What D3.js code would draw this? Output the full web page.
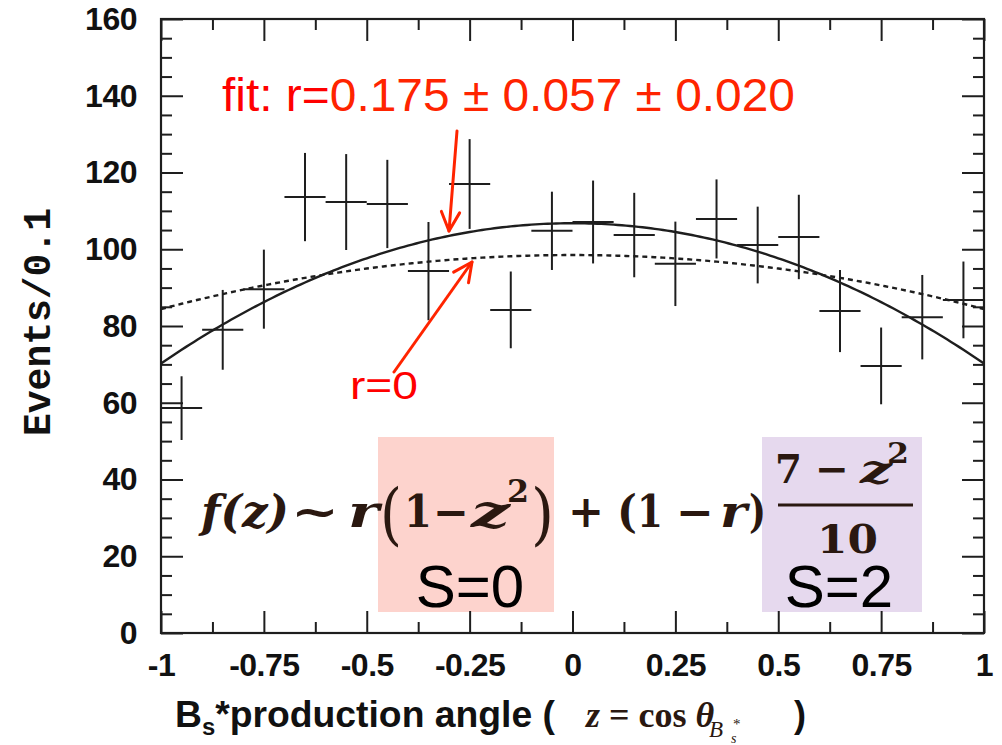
<!DOCTYPE html>
<html>
<head>
<meta charset="utf-8">
<script src="https://cdn.jsdelivr.net/npm/d3@7/dist/d3.min.js"></script>
<style>
  html, body { margin: 0; padding: 0; background: #fff; }
  svg { display: block; }
</style>
</head>
<body>
<svg id="chart" width="1002" height="745"></svg>
<script>
// Bin centres of the cos(theta) histogram (bin width 0.1)
const binCenters = [-0.95, -0.85, -0.75, -0.65, -0.55, -0.45, -0.35, -0.25, -0.15, -0.05,
                     0.05,  0.15,  0.25,  0.35,  0.45,  0.55,  0.65,  0.75,  0.85,  0.95];
// Events per bin and their uncertainties
const events = [58.6, 79.0, 89.6, 113.6, 112.3, 111.8, 94.3, 117.0, 84.2, 104.8,
                107.1, 103.7, 96.2, 107.9, 101.1, 103.2, 83.9, 69.6, 82.3, 86.8];
const errors = [8.3, 10.4, 10.3, 11.5, 12.5, 11.5, 12.8, 11.7, 10.0, 10.2,
                10.8, 11.0, 11.0, 10.3, 10.0, 11.0, 10.7, 10.0, 11.0, 10.0];
const binHalfWidth = 0.05;

// Fit parameters: S=0 fraction r and overall normalisation
const fitR = 0.175, fitNorm = 141.9;     // best fit
const nullR = 0.0,  nullNorm = 140.7;    // r = 0 hypothesis

// Axis ticks
const xMajor = [-1, -0.75, -0.5, -0.25, 0, 0.25, 0.5, 0.75, 1];
const xLabels = ["-1", "-0.75", "-0.5", "-0.25", "0", "0.25", "0.5", "0.75", "1"];
const xMinor = [-0.875, -0.625, -0.375, -0.125, 0.125, 0.375, 0.625, 0.875];
const yMajor = [0, 20, 40, 60, 80, 100, 120, 140, 160];
const yMinor = d3.range(5, 160, 5).filter(v => v % 20 !== 0);

const svg = d3.select("#chart");
const x = d3.scaleLinear().domain([-1, 1]).range([161, 984]);
const y = d3.scaleLinear().domain([0, 160]).range([633, 19]);

const ink = "#1e1e1e";
const sans = "'Liberation Sans', Arial, Helvetica, sans-serif";
const serif = "'DejaVu Serif', 'Liberation Serif', serif";
const mathInk = "#2a1810";

// Angular distribution model: r(1 - z^2) + (1 - r)(7 - z^2)/10
const model = (z, r, n) => n * (r * (1 - z * z) + (1 - r) * (7 - z * z) / 10);

// Shaded boxes marking the spin components
const boxes = [
  {x0: 378, x1: 554, fill: "#fdd3cd", label: "S=0", lx: 470},
  {x0: 762, x1: 922, fill: "#e6d9ee", label: "S=2", lx: 839}
];
svg.selectAll("rect.spin").data(boxes).join("rect")
  .attr("class", "spin")
  .attr("x", d => d.x0).attr("y", 437)
  .attr("width", d => d.x1 - d.x0).attr("height", 175)
  .attr("fill", d => d.fill);

// Axes with inward ticks
function styleAxis(g) {
  g.select(".domain").remove();
  g.selectAll("line").attr("stroke", ink).attr("stroke-width", 2);
}
const tickText = g => g.selectAll("text").attr("font-family", sans).attr("font-weight", "bold")
  .attr("font-size", 32).attr("fill", "#111").attr("letter-spacing", -0.5);

svg.append("g").attr("transform", "translate(0,633)")
  .call(d3.axisBottom(x).tickValues(xMajor).tickFormat((d, i) => xLabels[i])
        .tickSize(-22).tickPadding(20))
  .call(styleAxis).call(tickText);
svg.append("g").attr("transform", "translate(0,633)")
  .call(d3.axisBottom(x).tickValues(xMinor).tickFormat("").tickSize(-11))
  .call(styleAxis);
svg.append("g").attr("transform", "translate(0,19)")
  .call(d3.axisTop(x).tickValues(xMajor).tickFormat("").tickSize(-22))
  .call(styleAxis);
svg.append("g").attr("transform", "translate(0,19)")
  .call(d3.axisTop(x).tickValues(xMinor).tickFormat("").tickSize(-11))
  .call(styleAxis);
svg.append("g").attr("transform", "translate(161,0)")
  .call(d3.axisLeft(y).tickValues(yMajor).tickSize(-22).tickPadding(24))
  .call(styleAxis).call(tickText);
svg.append("g").attr("transform", "translate(161,0)")
  .call(d3.axisLeft(y).tickValues(yMinor).tickFormat("").tickSize(-11))
  .call(styleAxis);
svg.append("g").attr("transform", "translate(984,0)")
  .call(d3.axisRight(y).tickValues(yMajor).tickFormat("").tickSize(-22))
  .call(styleAxis);
svg.append("g").attr("transform", "translate(984,0)")
  .call(d3.axisRight(y).tickValues(yMinor).tickFormat("").tickSize(-11))
  .call(styleAxis);

// Frame
svg.append("rect")
  .attr("x", x(-1)).attr("y", y(160))
  .attr("width", x(1) - x(-1)).attr("height", y(0) - y(160))
  .attr("fill", "none").attr("stroke", ink).attr("stroke-width", 2.2);

// Fit curves
const zs = d3.range(-1, 1.00001, 0.01);
const line = d3.line().x(d => x(d[0])).y(d => y(d[1]));
svg.append("path")
  .attr("d", line(zs.map(z => [z, model(z, nullR, nullNorm)])))
  .attr("fill", "none").attr("stroke", ink).attr("stroke-width", 2.4)
  .attr("stroke-dasharray", "5,4");
svg.append("path")
  .attr("d", line(zs.map(z => [z, model(z, fitR, fitNorm)])))
  .attr("fill", "none").attr("stroke", ink).attr("stroke-width", 2.4);

// Data points with error bars
const pts = binCenters.map((c, i) => ({c, v: events[i], e: errors[i]}));
const gp = svg.append("g").attr("stroke", ink).attr("stroke-width", 2);
gp.selectAll("line.h").data(pts).join("line").attr("class", "h")
  .attr("x1", d => x(d.c - binHalfWidth)).attr("x2", d => x(d.c + binHalfWidth))
  .attr("y1", d => y(d.v)).attr("y2", d => y(d.v));
gp.selectAll("line.v").data(pts).join("line").attr("class", "v")
  .attr("x1", d => x(d.c)).attr("x2", d => x(d.c))
  .attr("y1", d => y(d.v - d.e)).attr("y2", d => y(d.v + d.e));

// Axis titles
svg.append("text")
  .attr("transform", "translate(50,322) rotate(-90)")
  .attr("text-anchor", "middle")
  .attr("font-family", "'Liberation Mono', 'DejaVu Sans Mono', monospace")
  .attr("font-weight", "bold").attr("font-size", 38).attr("fill", "#111")
  .text("Events/0.1");

const xt = svg.append("text").attr("x", 175).attr("y", 727)
  .attr("font-family", sans).attr("font-weight", "bold").attr("font-size", 36).attr("fill", "#111")
  .attr("textLength", 380).attr("lengthAdjust", "spacingAndGlyphs");
xt.append("tspan").text("B");
xt.append("tspan").attr("font-size", 23).attr("dy", 8).text("s");
xt.append("tspan").attr("dy", -8).text("*production angle (");
svg.append("text").attr("x", 800).attr("y", 727)
  .attr("text-anchor", "middle")
  .attr("font-family", sans).attr("font-weight", "bold").attr("font-size", 36).attr("fill", "#111")
  .text(")");
const xm = svg.append("text").attr("x", 586).attr("y", 727)
  .attr("font-family", "'Liberation Serif', serif").attr("font-weight", "bold")
  .attr("font-size", 36).attr("fill", mathInk);
xm.append("tspan").attr("font-style", "italic").text("z");
xm.append("tspan").text(" = cos ");
xm.append("tspan").attr("font-style", "italic").text("θ");
svg.append("text").attr("x", 709).attr("y", 737)
  .attr("font-family", "'Liberation Serif', serif").attr("font-style", "italic")
  .attr("font-size", 23).attr("fill", mathInk).text("B");
svg.append("text").attr("x", 733).attr("y", 729)
  .attr("font-family", "'Liberation Serif', serif")
  .attr("font-size", 15).attr("fill", mathInk).text("*");
svg.append("text").attr("x", 731).attr("y", 743)
  .attr("font-family", "'Liberation Serif', serif").attr("font-style", "italic")
  .attr("font-size", 14).attr("fill", mathInk).text("s");

// Formula f(z) ~ r(1 - z^2) + (1 - r)(7 - z^2)/10 ; each piece has a left edge and width
const mathPieces = [
  {t: "f(z)", x: 201, w: 88, y: 527, s: 44, it: true},
  {t: "~", x: 291, w: 48, y: 527, s: 44},
  {t: "r", x: 348, w: 31, y: 527, s: 44, it: true},
  {t: "(", x: 380, w: 22, y: 537, s: 68, light: true},
  {t: "1", x: 404, w: 28, y: 527, s: 44},
  {t: "−", x: 433, w: 36, y: 527, s: 44},
  {t: "z", x: 471, w: 39, y: 527, s: 44, it: true},
  {t: "2", x: 507, w: 22, y: 502, s: 32},
  {t: ")", x: 531, w: 23, y: 537, s: 68, light: true},
  {t: "+", x: 568, w: 36, y: 527, s: 44},
  {t: "(", x: 617, w: 20, y: 527, s: 44},
  {t: "1", x: 637, w: 26, y: 527, s: 44},
  {t: "−", x: 676, w: 38, y: 527, s: 44},
  {t: "r", x: 720, w: 27, y: 527, s: 44, it: true},
  {t: ")", x: 749, w: 17, y: 527, s: 44},
  {t: "7", x: 775, w: 27, y: 483, s: 40},
  {t: "−", x: 815, w: 34, y: 483, s: 40},
  {t: "z", x: 860, w: 32, y: 483, s: 40, it: true},
  {t: "2", x: 887, w: 22, y: 463, s: 27},
  {t: "10", x: 817, w: 61, y: 553, s: 40}
];
svg.selectAll("text.math").data(mathPieces).join("text").attr("class", "math")
  .attr("x", d => d.x).attr("y", d => d.y)
  .attr("textLength", d => d.w).attr("lengthAdjust", "spacingAndGlyphs")
  .attr("font-family", serif).attr("font-weight", d => d.light ? "normal" : "bold")
  .attr("font-style", d => d.it ? "italic" : "normal")
  .attr("font-size", d => d.s).attr("fill", mathInk)
  .text(d => d.t);
svg.append("line").attr("x1", 778).attr("x2", 913).attr("y1", 505).attr("y2", 505)
  .attr("stroke", mathInk).attr("stroke-width", 3);

// Spin labels
svg.selectAll("text.spin").data(boxes).join("text").attr("class", "spin")
  .attr("x", d => d.lx).attr("y", 607).attr("text-anchor", "middle")
  .attr("font-family", sans).attr("font-size", 60).attr("fill", "#000")
  .text(d => d.label);

// Fit annotation
const red = "#ff0000", red2 = "#ff2400";
const ft = svg.append("text").attr("x", 222).attr("y", 111)
  .attr("font-family", sans).attr("font-size", 46)
  .attr("textLength", 573).attr("lengthAdjust", "spacingAndGlyphs");
ft.append("tspan").attr("fill", red).text("fit: r=");
ft.append("tspan").attr("fill", red2).text(`${fitR.toFixed(3)} ± 0.057 ± 0.020`);

svg.append("text").attr("x", 350).attr("y", 399)
  .attr("font-family", sans).attr("font-size", 39).attr("fill", red)
  .attr("textLength", 68).attr("lengthAdjust", "spacingAndGlyphs")
  .text("r=0");

// Arrows pointing at the two curves
function arrow(x1, y1, x2, y2) {
  const a = Math.atan2(y2 - y1, x2 - x1), len = 21, spread = 0.45;
  const g = svg.append("g").attr("stroke", red2).attr("stroke-width", 3)
    .attr("fill", "none").attr("stroke-linecap", "round").attr("stroke-linejoin", "round");
  g.append("line").attr("x1", x1).attr("y1", y1).attr("x2", x2).attr("y2", y2);
  g.append("path").attr("d",
    `M${x2 - len * Math.cos(a - spread)},${y2 - len * Math.sin(a - spread)}` +
    `L${x2},${y2}` +
    `L${x2 - len * Math.cos(a + spread)},${y2 - len * Math.sin(a + spread)}`);
}
arrow(457, 131, 449, 231);
arrow(394, 372, 472, 262);
</script>
</body>
</html>
